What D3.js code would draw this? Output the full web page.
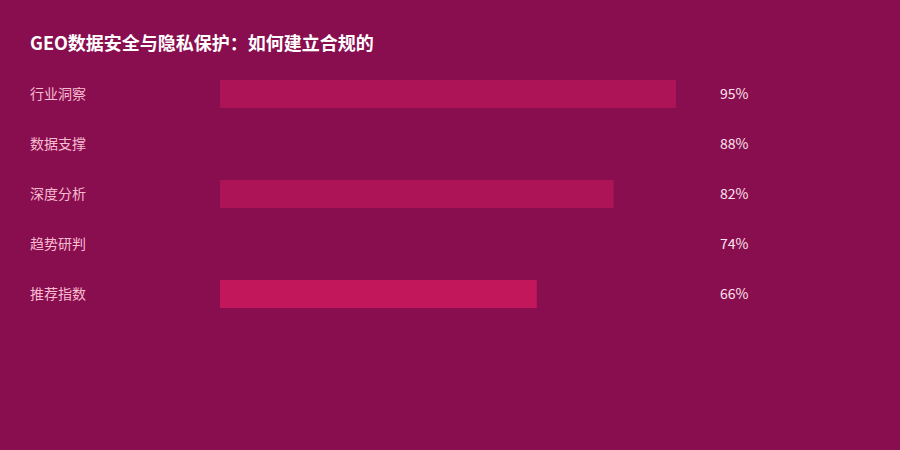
<!DOCTYPE html>
<html><head><meta charset="utf-8">
<script src="https://cdn.jsdelivr.net/npm/d3@7"></script>
<style>html,body{margin:0;padding:0;background:#880E4F;}</style>
</head><body>
<svg id="c" width="900" height="450"></svg>
<script>
const title = "GEO数据安全与隐私保护：如何建立合规的";
const categories = ["行业洞察", "数据支撑", "深度分析", "趋势研判", "推荐指数"];
const values = [95, 88, 82, 74, 66];
const barColors = ["#AD1457", "#880E4F", "#AD1457", "#880E4F", "#C2185B"];

const svg = d3.select("#c");
const font = "'Noto Sans CJK SC','Noto Sans',sans-serif";
svg.append("rect").attr("width", 900).attr("height", 450).attr("fill", "#880E4F");

svg.append("text").attr("x", 30).attr("y", 45).attr("dominant-baseline", "middle")
  .attr("font-family", font).attr("font-size", 18).attr("font-weight", "bold")
  .attr("fill", "#ffffff").text(title);

const x = d3.scaleLinear().domain([0, 100]).range([220, 700]);
const y = d3.scalePoint().domain(categories).range([94, 294]);

const g = svg.selectAll("g.row").data(categories).join("g").attr("class", "row");
g.append("text").attr("x", 30).attr("y", d => y(d) + 1).attr("dominant-baseline", "middle")
  .attr("font-family", font).attr("font-size", 14).attr("fill", "#F8BBD0").text(d => d);
g.append("rect").attr("x", x(0)).attr("y", d => y(d) - 14)
  .attr("width", (d, i) => x(values[i]) - x(0)).attr("height", 28)
  .attr("fill", (d, i) => barColors[i]);
g.append("text").attr("x", 720).attr("y", d => y(d) + 1.5).attr("dominant-baseline", "middle")
  .attr("font-family", font).attr("font-size", 14).attr("fill", "#FCE4EC")
  .text((d, i) => values[i] + "%");
</script>
</body></html>
